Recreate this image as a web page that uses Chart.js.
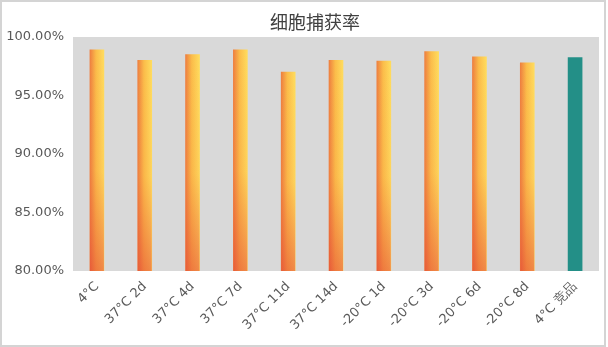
<!DOCTYPE html>
<html>
<head>
<meta charset="utf-8">
<script src="https://cdn.jsdelivr.net/npm/chart.js@4"></script>
<style>
  html, body { margin: 0; padding: 0; background: #fff; }
  #wrap { position: relative; width: 608px; height: 347px; }
</style>
</head>
<body>
<div id="wrap"><canvas id="c" width="608" height="347"></canvas></div>
<script>
// ── Data ────────────────────────────────────────────────────────────────────
const categories = ['4°C', '37°C 2d', '37°C 4d', '37°C 7d', '37°C 11d', '37°C 14d',
  '-20°C 1d', '-20°C 3d', '-20°C 6d', '-20°C 8d', '4°C 竞品'];
const captureRate = [0.989, 0.980, 0.985, 0.989, 0.970, 0.980, 0.9795, 0.9875, 0.983, 0.978, 0.9825];
const yTicks = [0.80, 0.85, 0.90, 0.95, 1.00];
const chartTitle = '细胞捕获率';

const TEAL = '#238f87';

// ── Plugins ─────────────────────────────────────────────────────────────────
const frame = {
  id: 'frame',
  beforeDraw(chart) {
    const { ctx, width, height, chartArea: a } = chart;
    ctx.save();
    ctx.fillStyle = '#fff';
    ctx.fillRect(0, 0, width, height);
    ctx.strokeStyle = '#d4d4d4';
    ctx.lineWidth = 2;
    ctx.strokeRect(1, 1, width - 4, height - 2);
    ctx.fillStyle = '#d9d9d9';
    ctx.fillRect(a.left, a.top, a.right - a.left, a.bottom - a.top);
    ctx.restore();
  },
  // title sits a little left of the plot centre, like the original
  afterDraw(chart) {
    const { ctx } = chart;
    ctx.save();
    ctx.fillStyle = '#404040';
    ctx.font = '18px "Noto Sans CJK SC", sans-serif';
    ctx.textAlign = 'center';
    ctx.textBaseline = 'middle';
    ctx.fillText(chartTitle, 315, 22);
    ctx.restore();
  }
};

// redder toward the bottom-left of each gradient bar
const shade = {
  id: 'shade',
  afterDatasetsDraw(chart) {
    const { ctx, chartArea } = chart;
    const meta = chart.getDatasetMeta(0);
    ctx.save();
    meta.data.forEach((bar, i) => {
      if (i === categories.length - 1) return;
      const w = bar.width;
      const bottom = Math.min(bar.base, chartArea.bottom);
      const g = ctx.createLinearGradient(bar.x + w / 2, bar.y, bar.x - w / 2, bottom);
      g.addColorStop(0, 'rgba(232,70,50,0)');
      g.addColorStop(0.55, 'rgba(232,70,50,0.06)');
      g.addColorStop(1, 'rgba(225,55,50,0.5)');
      ctx.fillStyle = g;
      ctx.fillRect(bar.x - w / 2, bar.y, w, bottom - bar.y);
    });
    ctx.restore();
  }
};

function barFill(ctx) {
  const chart = ctx.chart;
  if (ctx.dataIndex === categories.length - 1) return TEAL;
  const xs = chart.scales.x;
  if (!xs || !chart.chartArea) return '#f7b84a';
  const cx = xs.getPixelForValue(ctx.dataIndex);
  const g = chart.ctx.createLinearGradient(cx - 7, 0, cx + 7, 0);
  g.addColorStop(0, '#ee8040');
  g.addColorStop(0.45, '#fbbd4a');
  g.addColorStop(1, '#ffdc5e');
  return g;
}

// ── Chart ───────────────────────────────────────────────────────────────────
new Chart(document.getElementById('c'), {
  type: 'bar',
  data: {
    labels: categories,
    datasets: [{
      label: chartTitle,
      data: captureRate,
      backgroundColor: barFill,
      borderWidth: 0,
      barThickness: 14
    }]
  },
  options: {
    responsive: false,
    animation: false,
    layout: { padding: { left: 0, right: 9, top: 37, bottom: 0 } },
    plugins: {
      legend: { display: false },
      tooltip: { enabled: false },
      title: { display: false }
    },
    scales: {
      x: {
        grid: { display: false, drawTicks: false },
        border: { display: false },
        ticks: {
          color: '#595959',
          font: { family: '"DejaVu Sans", sans-serif', size: 13 },
          minRotation: 45,
          maxRotation: 45,
          padding: 8
        },
        afterFit: s => { s.height = 76; }
      },
      y: {
        min: 0.8,
        max: 1.0,
        grid: { display: false, drawTicks: false },
        border: { display: false },
        afterBuildTicks: s => { s.ticks = yTicks.map(v => ({ value: v })); },
        ticks: {
          color: '#595959',
          font: { family: '"DejaVu Sans", sans-serif', size: 13 },
          padding: 9,
          callback: v => (v * 100).toFixed(2) + '%'
        },
        afterFit: s => { s.width = 73; }
      }
    }
  },
  plugins: [frame, shade]
});
</script>
</body>
</html>
